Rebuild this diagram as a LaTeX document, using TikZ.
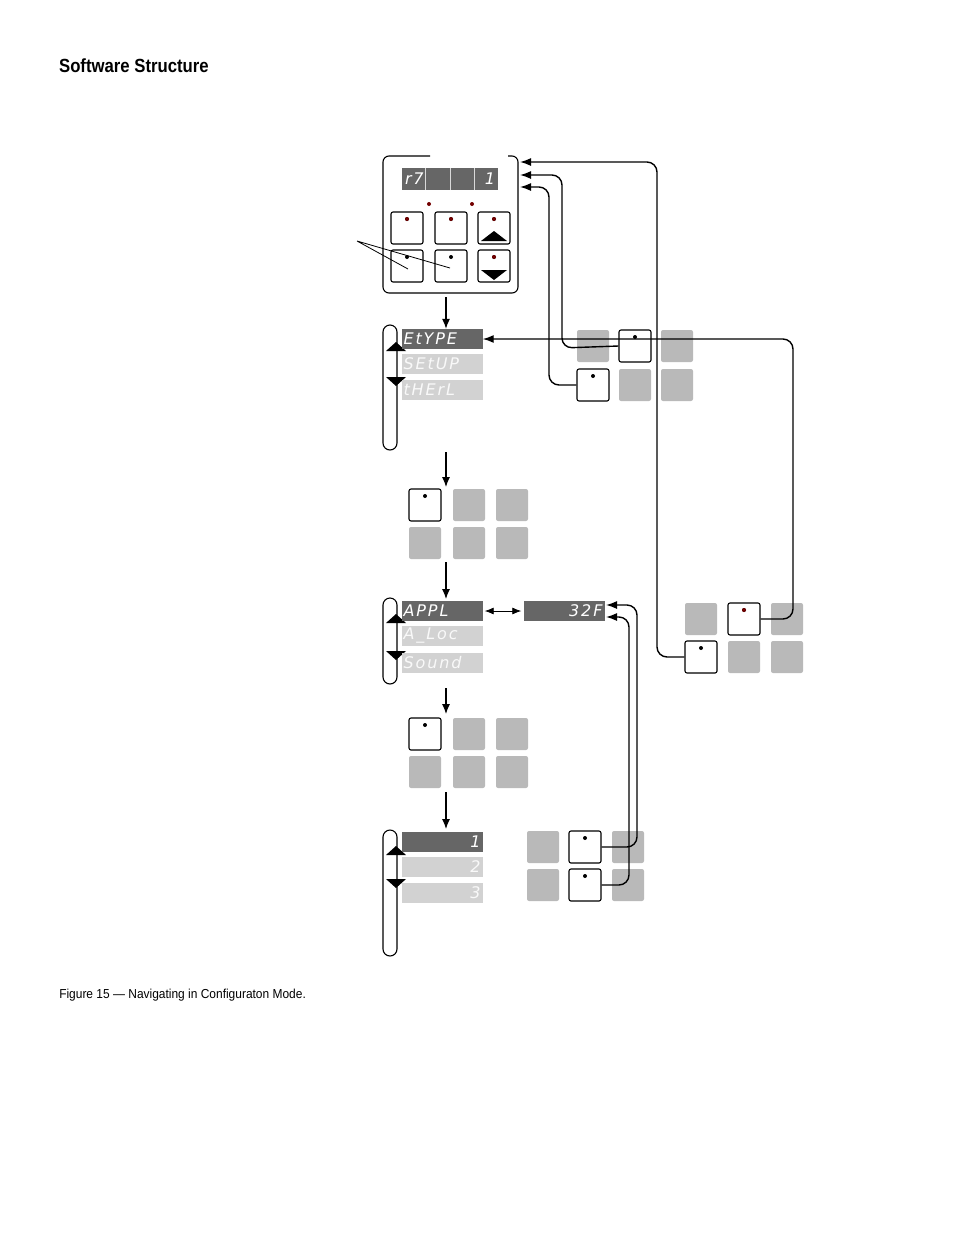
\documentclass[tikz,border=0pt]{standalone}
\usepackage{fontspec}
\setmainfont{Liberation Sans}
\newfontfamily\segfont[LetterSpace=12]{DejaVu Sans}
\usetikzlibrary{arrows.meta}
\tikzset{
  dot/.style={circle,fill=black,inner sep=0pt,minimum size=4pt},
  key/.style={draw,line width=1.1pt,rounded corners=2pt,fill=white,minimum size=32pt,inner sep=0pt,
    label={[dot,yshift=9pt]center:{}}},
  redkey/.style={key,label={[dot,fill=red!45!black,yshift=9pt]center:{}}},
  blank/.style={fill=gray!55,rounded corners=2pt,minimum size=32pt,inner sep=0pt},
  lcd/.style={fill=black!60,text=white,minimum width=81pt,minimum height=20pt,inner sep=2pt,
    font=\segfont\itshape\fontsize{16}{16}\selectfont,text width=77pt},
  lcdoff/.style={lcd,fill=gray!35,text=gray!5},
  bracket/.style={draw,line width=1.1pt,rounded corners=7pt},
  flow/.style={line width=1.1pt,-{Latex[length=10pt,width=8pt]}},
  link/.style={line width=1.4pt,rounded corners=10pt,-{Latex[length=11pt,width=8pt]}}
}
\begin{document}
\begin{tikzpicture}[x=1pt,y=-1pt]
\useasboundingbox (0,0) rectangle (954,1235);
\node[anchor=west,font=\bfseries\fontsize{19}{19}\selectfont,xscale=.88] (title) at (56,66) {Software Structure};
\node[anchor=west,font=\fontsize{13}{13}\selectfont,xscale=.92] (caption) at (56,995) {Figure 15 — Navigating in Configuraton Mode.};
% controller front
\draw[line width=1.1pt,rounded corners=6pt] (430,156) -- (383,156) -- (383,293) -- (518,293) -- (518,156) -- (508,156);
\node[lcd,minimum width=96pt,text width=90pt,minimum height=22pt] (front) at (450,179) {r7\hfill 1};
\foreach \x in {425,450,474} \draw[white!70!gray] (\x,168) -- (\x,190);
\fill[red!45!black] (429,204) circle[radius=2pt] (472,204) circle[radius=2pt];
\node[redkey] (k1) at (407,228) {};
\node[redkey] (k2) at (451,228) {};
\node[redkey] (k3) at (494,228) {};
\node[key] (k4) at (407,266) {};
\node[key] (k5) at (451,266) {};
\node[redkey] (k6) at (494,266) {};
\fill (481,241) -- (494,231) -- (507,241) -- cycle;
\fill (481,270) -- (494,280) -- (507,270) -- cycle;
\coordinate (tag) at (357,241);
\draw[thick] (tag) -- (408,269) (tag) -- (450,268);
% first list
\draw[bracket] (383,325) rectangle (397,450);
\fill (386,351) -- (396,342) -- (406,351) -- cycle;
\fill (386,377) -- (396,386) -- (406,377) -- cycle;
\node[lcd] (etype) at (442,339) {EtYPE};
\node[lcdoff] (setup) at (442,364) {SEtUP};
\node[lcdoff] (therl) at (442,390) {tHErL};
\draw[flow] (446,297) -- (etype.north -| 446,0);
% pad A
\node[blank] at (593,346) {}; \node[key] (a1) at (635,346) {}; \node[blank] at (677,346) {};
\node[key] (a2) at (593,385) {}; \node[blank] at (635,385) {}; \node[blank] at (677,385) {};
% pad B
\draw[flow] (446,452) -- (446,487);
\node[key] (b1) at (425,505) {}; \node[blank] at (469,505) {}; \node[blank] at (512,505) {};
\node[blank] at (425,543) {}; \node[blank] at (469,543) {}; \node[blank] at (512,543) {};
% second list
\draw[flow] (446,562) -- (446,599);
\draw[bracket] (383,598) rectangle (397,684);
\fill (386,623) -- (396,614) -- (406,623) -- cycle;
\fill (386,651) -- (396,660) -- (406,651) -- cycle;
\node[lcd] (appl) at (442,611) {APPL};
\node[lcdoff] (aloc) at (442,636) {A\_Loc};
\node[lcdoff] (sound) at (442,663) {Sound};
\node[lcd] (temp) at (564,611) {\hfill 32F};
\draw[thick,{Latex[length=9pt,width=7pt]}-{Latex[length=9pt,width=7pt]}] ([xshift=2pt]appl.east) -- ([xshift=-2pt]temp.west);
% pad C
\draw[flow] (446,688) -- (446,714);
\node[key] (c1) at (425,734) {}; \node[blank] at (469,734) {}; \node[blank] at (512,734) {};
\node[blank] at (425,772) {}; \node[blank] at (469,772) {}; \node[blank] at (512,772) {};
% third list
\draw[flow] (446,792) -- (446,829);
\draw[bracket] (383,830) rectangle (397,956);
\fill (386,855) -- (396,846) -- (406,855) -- cycle;
\fill (386,879) -- (396,888) -- (406,879) -- cycle;
\node[lcd] (one) at (442,842) {\hfill 1};
\node[lcdoff] (two) at (442,867) {\hfill 2};
\node[lcdoff] (three) at (442,893) {\hfill 3};
% pad D
\node[blank] at (543,847) {}; \node[key] (d1) at (585,847) {}; \node[blank] at (628,847) {};
\node[blank] at (543,885) {}; \node[key] (d2) at (585,885) {}; \node[blank] at (628,885) {};
% pad E
\node[blank] at (701,619) {}; \node[redkey] (e1) at (744,619) {}; \node[blank] at (787,619) {};
\node[key] (e2) at (701,657) {}; \node[blank] at (744,657) {}; \node[blank] at (787,657) {};
% return paths
\draw[link] (a1.west) -- (562,348) -- (562,175) -- (520,175);
\draw[link] (a2.west) -- (549,385) -- (549,187) -- (520,187);
\draw[link] (e2.west) -- (657,657) -- (657,162) -- (520,162);
\draw[link] (e1.east) -- (793,619) -- (793,339) -- (etype.east);
\draw[link] (d1.east) -- (637,847) -- (637,605) -- (606,605);
\draw[link] (d2.east) -- (629,885) -- (629,617) -- (606,617);
\end{tikzpicture}
\end{document}
